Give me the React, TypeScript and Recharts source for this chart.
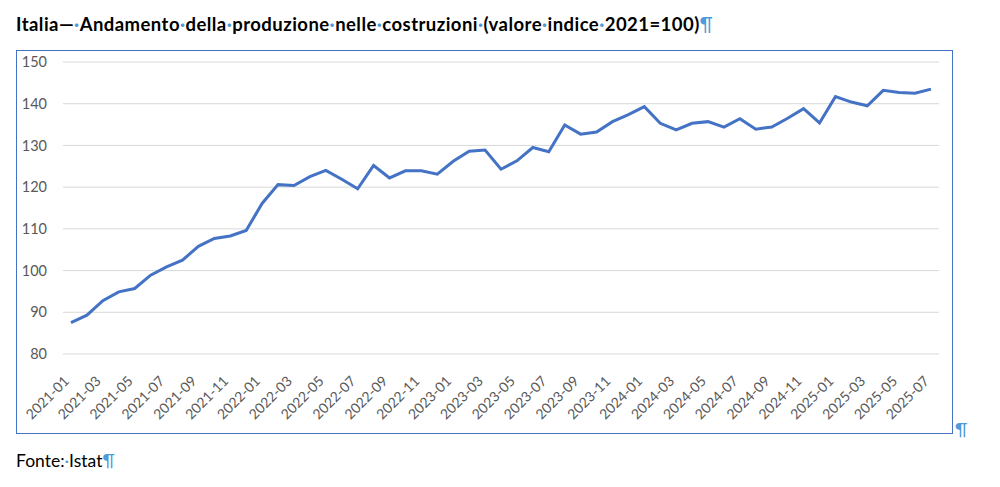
import React from "react";
import { CartesianGrid, Line, LineChart, XAxis, YAxis } from "recharts";

// mesi 2021-01 .. 2025-07
const months = [
  "2021-01", "2021-02", "2021-03", "2021-04", "2021-05", "2021-06", "2021-07", "2021-08", "2021-09", "2021-10", "2021-11", "2021-12",
  "2022-01", "2022-02", "2022-03", "2022-04", "2022-05", "2022-06", "2022-07", "2022-08", "2022-09", "2022-10", "2022-11", "2022-12",
  "2023-01", "2023-02", "2023-03", "2023-04", "2023-05", "2023-06", "2023-07", "2023-08", "2023-09", "2023-10", "2023-11", "2023-12",
  "2024-01", "2024-02", "2024-03", "2024-04", "2024-05", "2024-06", "2024-07", "2024-08", "2024-09", "2024-10", "2024-11", "2024-12",
  "2025-01", "2025-02", "2025-03", "2025-04", "2025-05", "2025-06", "2025-07"
];

// indice produzione costruzioni (2021=100)
const produzione = [
  87.5, 89.3, 92.8, 94.9, 95.7, 98.9, 100.9, 102.5, 105.8, 107.7, 108.3, 109.6,
  116.1, 120.6, 120.4, 122.5, 124.0, 121.9, 119.6, 125.2, 122.2, 123.9, 123.9, 123.1,
  126.2, 128.6, 128.9, 124.3, 126.3, 129.5, 128.5, 134.9, 132.7, 133.2, 135.7, 137.4,
  139.3, 135.3, 133.7, 135.3, 135.7, 134.4, 136.4, 133.9, 134.4, 136.5, 138.8, 135.4,
  141.7, 140.4, 139.5, 143.2, 142.7, 142.5, 143.5
];

const yTicks = [80, 90, 100, 110, 120, 130, 140, 150];

const titleWords = ["Andamento", "della", "produzione", "nelle", "costruzioni", "(valore", "indice", "2021=100)"];

const FONT = "Lato, 'Open Sans', sans-serif";
const MARK = "#4f9ad8";

const data = months.map((m, i) => ({ month: m, value: produzione[i] }));

function MonthTick({ x, y, payload }: any) {
  return (
    <g transform={`translate(${x - 1},${y + 28})`}>
      <text
        transform="rotate(-45)"
        textAnchor="end"
        fill="#595959"
        fontSize={14}
        fontFamily={FONT}
      >
        {payload.value}
      </text>
    </g>
  );
}

export default function App() {
  return (
    <div style={{ position: "absolute", left: 0, top: 0, width: 1000, height: 487, background: "#fff", fontFamily: FONT }}>
      <div style={{ position: "absolute", left: 16, top: 13, fontSize: 18.5, letterSpacing: 0.45, fontWeight: 700, color: "#000", whiteSpace: "nowrap" }}>
        Italia—<span style={{ color: MARK }}>·</span>
        {titleWords.map((w, i) => (
          <React.Fragment key={w}>
            {w}
            {i < titleWords.length - 1 ? <span style={{ color: MARK }}>·</span> : null}
          </React.Fragment>
        ))}
        <span style={{ color: MARK, fontWeight: 400 }}>¶</span>
      </div>

      <div style={{ position: "absolute", left: 16, top: 50, width: 935, height: 382, border: "1.5px solid #4472c4" }}>
        <LineChart width={935} height={382} data={data} margin={{ top: 11, right: 13, bottom: 0, left: 0 }}>
          <CartesianGrid vertical={false} stroke="#d9d9d9" strokeWidth={1} />
          <XAxis
            dataKey="month"
            interval={1}
            axisLine={false}
            tickLine={false}
            tickSize={0}
            tickMargin={0}
            height={79}
            padding={{ left: 8, right: 8 }}
            tick={<MonthTick />}
          />
          <YAxis
            domain={[80, 150]}
            ticks={yTicks}
            axisLine={false}
            tickLine={false}
            tickSize={0}
            tickMargin={16}
            width={46}
            tick={{ fill: "#595959", fontSize: 14.5, fontFamily: FONT }}
          />
          <Line
            type="linear"
            dataKey="value"
            stroke="#4472c4"
            strokeWidth={3}
            dot={false}
            isAnimationActive={false}
          />
        </LineChart>
      </div>
      <div style={{ position: "absolute", left: 955, top: 418, fontSize: 18, color: MARK }}>¶</div>

      <div style={{ position: "absolute", left: 16, top: 450, fontSize: 17.5, color: "#000" }}>
        Fonte:<span style={{ color: MARK }}>·</span>Istat<span style={{ color: MARK }}>¶</span>
      </div>
    </div>
  );
}
